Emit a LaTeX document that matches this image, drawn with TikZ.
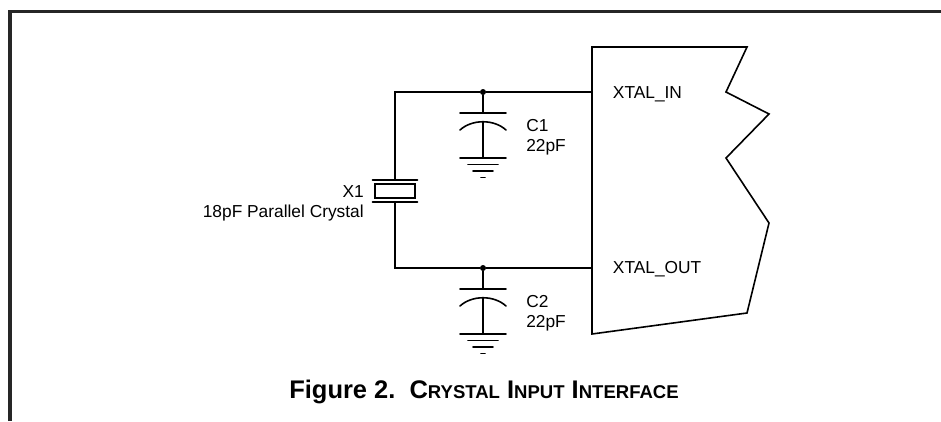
\documentclass[tikz,border=0pt]{standalone}
\usepackage{fontspec}
\setmainfont{Liberation Sans}
\usetikzlibrary{positioning}
\tikzset{
x=0.75pt, y=-0.75pt, % one unit is one pixel of the page, y grows downwards
wire/.style={line width=1.2pt, line cap=round}, % circuit lines
frame/.style={line width=2.3pt, black!85}, % page frame
junction/.style={circle, fill, inner sep=0pt, minimum size=4.5pt}, % wire dots
pinlabel/.style={font=\fontsize{13}{15}\selectfont, inner sep=0pt},
partlabel/.style={font=\fontsize{13}{15}\selectfont, inner sep=0pt},
xtal/.style={draw, line width=1.2pt, rectangle, inner sep=0pt, minimum width=30pt, minimum height=10.5pt},
}
\newcommand\smc[2]{#1{\fontsize{13.9}{16}\selectfont #2}}

\begin{document}
\begin{tikzpicture}
    \useasboundingbox (0,0) rectangle (941,421);
    \draw[frame] (10,421) -- (10,11.5) -- (941,11.5);

    % chip outline
    \coordinate (inpin) at (592,94);
    \coordinate (outpin) at (592,269);
    \draw[wire, line join=miter] (592,47) -- (747,47) -- (726,92) -- (769,114) -- (726,158)
        -- (769,223) -- (747,313) -- (592,334) -- cycle;
    \node[pinlabel, anchor=west, right=15.5pt of inpin] (in) {XTAL\_IN};
    \node[pinlabel, anchor=west, right=15.5pt of outpin] (out) {XTAL\_OUT};

    % crystal
    \coordinate (xtop) at (395,92);
    \coordinate (xbot) at (395,268);
    \coordinate (xp1) at (395,180);
    \coordinate (xp2) at (395,202);
    \node[xtal] (x1) at (395,191) {};
    \draw[wire] (xp1) ++(-22.5,0) -- ++(45,0);
    \draw[wire] (xp2) ++(-22.5,0) -- ++(45,0);
    \node[partlabel, align=right, anchor=east] (x1lab) at (364,203) {X1\\18pF Parallel Crystal};

    % junctions and wires
    \node[junction] (j1) at (483,92) {};
    \node[junction] (j2) at (483,268) {};
    \draw[wire] (xp1) -- (xtop) -- (j1) -- (592,92);
    \draw[wire] (xp2) -- (xbot) -- (j2) -- (592,268);

    % load capacitors to ground
    \foreach \j/\n in {j1/C1, j2/C2} {
        \draw[wire] (\j) -- ++(0,21) ++(-23,0) -- ++(46,0);
        \draw[wire] (\j) ++(-23,38) .. controls +(12,-11) and +(-12,-11) .. ++(46,0);
        \draw[wire] (\j) ++(0,30) -- ++(0,36) ++(-23,0) -- ++(46,0);
        \draw[wire] (\j) ++(-15,72.5) -- ++(30,0);
        \draw[wire] (\j) ++(-10,79) -- ++(20,0);
        \draw[wire] (\j) ++(-2,85.5) -- ++(4,0);
        \node[partlabel, align=left, anchor=west] at ([shift={(43,45)}]\j) {\n\\22pF};
    }

    \node[font=\fontsize{19.1}{21}\selectfont\bfseries, inner sep=0pt] (caption) at (484,392)
        {Figure 2.\ \ \smc{C}{RYSTAL} \smc{I}{NPUT} \smc{I}{NTERFACE}};
\end{tikzpicture}
\end{document}
